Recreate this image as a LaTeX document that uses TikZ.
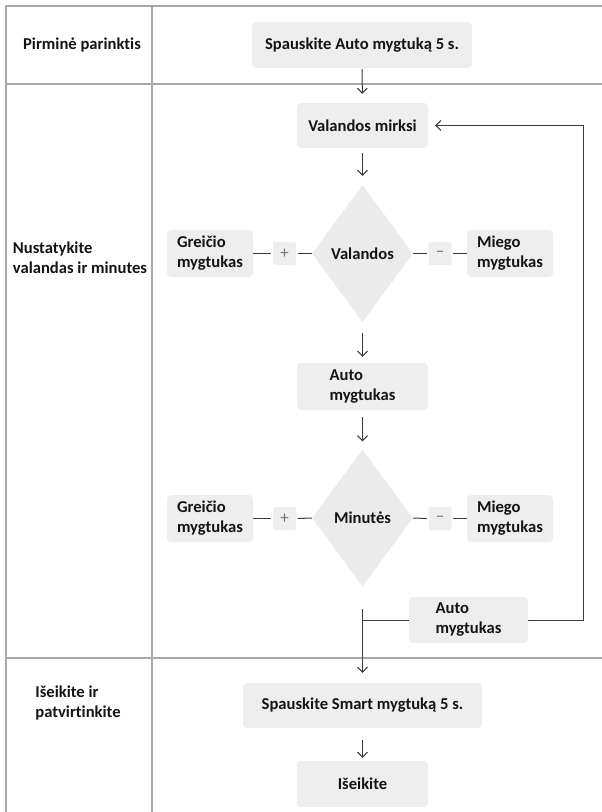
\documentclass[tikz,border=0pt]{standalone}
\usepackage{fontspec}
\setmainfont[Ligatures=NoCommon]{Carlito}
\usetikzlibrary{shapes.geometric,arrows.meta}
\definecolor{boxgray}{HTML}{EEEEEE}
\definecolor{diagray}{HTML}{EBEBEB}
\definecolor{gridgray}{HTML}{A8A8A8}
\definecolor{linegray}{HTML}{3A3A3A}
\definecolor{txt}{HTML}{141414}
\tikzset{
  box/.style={rectangle, rounded corners=4pt, fill=boxgray, draw=none, align=left,
    font=\bfseries\fontsize{16.6pt}{20pt}\selectfont, text=txt, inner sep=0pt},
  dia/.style={diamond, fill=diagray, draw=none, inner sep=0pt, aspect=0.74,
    minimum width=101pt, minimum height=137pt,
    font=\bfseries\fontsize{16.6pt}{20pt}\selectfont, text=txt},
  sign/.style={rectangle, rounded corners=2pt, fill=boxgray, draw=none, inner sep=0pt,
    minimum width=23pt, minimum height=23pt, text=black!55, font=\fontsize{17pt}{17pt}\selectfont},
  lane/.style={align=left, font=\bfseries\fontsize{16.6pt}{20pt}\selectfont, text=txt},
  grid/.style={draw=gridgray, line width=1.3pt},
  conn/.style={draw=linegray, line width=1pt},
  arr/.style={conn, -{Straight Barb[length=5pt,width=10pt,line width=1pt]}},
}
\begin{document}
\begin{tikzpicture}[x=1pt,y=-1pt]
\useasboundingbox (0,0) rectangle (602,812);
% table grid
\draw[grid] (602,6) -- (6,6) -- (6,812);
\draw[grid] (152,6) -- (152,812);
\draw[grid] (6,84) -- (602,84);
\draw[grid] (6,658) -- (602,658);
% lane labels
\node[lane] (l1) at (82,45) {Pirminė parinktis};
\node[lane] (l2) at (80,258) {Nustatykite\\valandas ir minutes};
\node[lane] (l3) at (78,703) {Išeikite ir\\patvirtinkite};
% nodes
\node[box, minimum width=220pt, minimum height=46pt] (start) at (362,45) {Spauskite Auto mygtuką 5 s.};
\node[box, minimum width=131pt, minimum height=45pt] (vm) at (362.5,125.5) {Valandos mirksi};
\node[dia] (d1) at (362.5,253.5) {Valandos};
\node[box, minimum width=86pt, minimum height=47pt] (g1) at (210,253.5) {Greičio\\mygtukas};
\node[sign] (p1) at (284.5,253.5) {+};
\node[sign] (m1) at (440,253.5) {--};
\node[box, minimum width=86pt, minimum height=47pt] (s1) at (510,253.5) {Miego\\mygtukas};
\node[box, minimum width=131pt, minimum height=47pt] (a1) at (362.5,386.5) {Auto\\mygtukas};
\node[dia] (d2) at (362.5,518) {Minutės};
\node[box, minimum width=86pt, minimum height=47pt] (g2) at (210,518.5) {Greičio\\mygtukas};
\node[sign] (p2) at (284.5,518.5) {+};
\node[sign] (m2) at (440,518.5) {--};
\node[box, minimum width=86pt, minimum height=47pt] (s2) at (510,518.5) {Miego\\mygtukas};
\node[box, minimum width=119pt, minimum height=46pt] (a2) at (468.5,620) {Auto\\mygtukas};
\node[box, minimum width=239pt, minimum height=45pt] (smart) at (362.5,705.5) {Spauskite Smart mygtuką 5 s.};
\node[box, minimum width=131pt, minimum height=46pt] (exit) at (362.5,784) {Išeikite};
\coordinate (j) at (362.5,609);
\coordinate (fb) at (583,620);
% connectors
\draw[arr, shorten <=1pt, shorten >=9pt] (start) -- (vm);
\draw[arr, shorten <=5pt, shorten >=9pt] (vm) -- (d1);
\draw[arr, shorten <=11pt, shorten >=6pt] (d1) -- (a1);
\draw[arr, shorten <=7pt, shorten >=8pt] (a1) -- (d2);
\draw[arr, shorten >=10pt] (j) -- (smart);
\draw[arr, shorten <=12pt, shorten >=3pt] (smart) -- (exit);
\draw[conn] (a2.west) -- (a2.west -| j);
\draw[arr, shorten >=7pt] (a2.east) -- (fb) -- (fb |- vm.east) -- (vm.east);
\draw[conn] (g1.east) -- ([xshift=-1.5pt]p1.west);
\draw[conn] ([xshift=1.5pt]p1.east) -- (d1.west);
\draw[conn] (d1.east) -- ([xshift=-1.5pt]m1.west);
\draw[conn] ([xshift=1.5pt]m1.east) -- (s1.west);
\draw[conn] (g2.east) -- ([xshift=-1.5pt]p2.west);
\draw[conn] ([xshift=1.5pt]p2.east) -- (d2.west);
\draw[conn] (d2.east) -- ([xshift=-1.5pt]m2.west);
\draw[conn] ([xshift=1.5pt]m2.east) -- (s2.west);
\end{tikzpicture}
\end{document}
